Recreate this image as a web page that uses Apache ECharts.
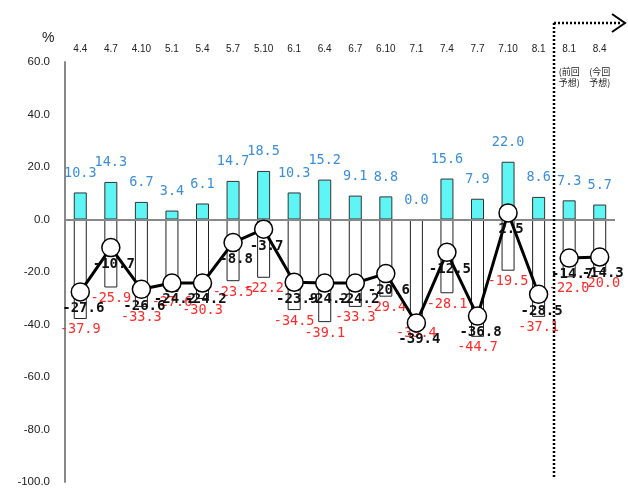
<!DOCTYPE html>
<html><head><meta charset="utf-8">
<script src="https://cdn.jsdelivr.net/npm/echarts@6/dist/echarts.min.js"></script>
<style>html,body{margin:0;padding:0;background:#fff}#c{width:628px;height:495px}</style>
</head><body><div id="c"></div>
<script>
const categories = ['4.4','4.7','4.10','5.1','5.4','5.7','5.10','6.1','6.4','6.7','6.10','7.1','7.4','7.7','7.10','8.1','8.1','8.4'];
const subLabels = ['','','','','','','','','','','','','','','','','(前回\n予想)','(今回\n予想)'];
const positiveValues = [10.3,14.3,6.7,3.4,6.1,14.7,18.5,10.3,15.2,9.1,8.8,0.0,15.6,7.9,22.0,8.6,7.3,5.7];
const negativeValues = [-37.9,-25.9,-33.3,-27.6,-30.3,-23.5,-22.2,-34.5,-39.1,-33.3,-29.4,-39.4,-28.1,-44.7,-19.5,-37.1,-22.0,-20.0];
const lineActual = [-27.6,-10.7,-26.6,-24.2,-24.2,-8.8,-3.7,-23.9,-24.2,-24.2,-20.6,-39.4,-12.5,-36.8,2.5,-28.5,null,null];
const lineForecast = [null,null,null,null,null,null,null,null,null,null,null,null,null,null,null,null,-14.7,-14.3];
const yMin = -100, yMax = 60, yStep = 20;

const mono = '"DejaVu Sans Mono", monospace';
const chart = echarts.init(document.getElementById('c'), null, {renderer:'canvas'});
const lineLabel = {show:true, position:'bottom', distance:0, offset:[3,0], color:'#111', fontFamily:mono, fontWeight:'bold', fontSize:14,
  formatter:p => p.value == null ? '' : p.value.toFixed(1)};
const lineCommon = {
  type:'line', symbol:'circle', symbolSize:18, z:5,
  lineStyle:{color:'#000', width:3},
  itemStyle:{color:'#fff', borderColor:'#000', borderWidth:1.5},
  label: lineLabel, connectNulls:false
};
chart.setOption({
  animation:false,
  backgroundColor:'#fff',
  title:{text:'%', left:37, top:26, textStyle:{fontSize:14, fontWeight:'normal', color:'#222', fontFamily:'Liberation Sans'}},
  grid:{left:65, right:13, top:62, bottom:13},
  xAxis:[{
    type:'category', data:categories, position:'top',
    axisLine:{show:false, onZero:false}, axisTick:{show:false},
    axisLabel:{color:'#222', fontSize:10, margin:8, fontFamily:'Liberation Sans'}
  },{
    type:'category', data:subLabels, position:'top', offset:-34,
    axisLine:{show:false, onZero:false}, axisTick:{show:false},
    axisLabel:{color:'#222', fontSize:9, lineHeight:11, margin:8, fontFamily:'"Noto Sans CJK JP"'}
  }],
  yAxis:{
    type:'value', min:yMin, max:yMax, interval:yStep,
    axisLine:{show:true, lineStyle:{color:'#888', width:2}},
    axisTick:{show:false}, splitLine:{show:false},
    axisLabel:{color:'#222', fontSize:11.5, margin:15, fontFamily:'Liberation Sans', formatter:v => v.toFixed(1)}
  },
  series:[
    {type:'bar', data:positiveValues, barWidth:13, barGap:'-100%', z:2,
     itemStyle:{color:'#5ff5f5', borderColor:'#333', borderWidth:1},
     label:{show:true, position:'top', distance:12, color:'#3d8ed8', fontFamily:mono, fontSize:13.5, formatter:p=>p.value.toFixed(1)},
     markLine:{silent:true, symbol:'none', label:{show:false}, lineStyle:{color:'#888', width:2, type:'solid'}, data:[{yAxis:0}]}},
    {type:'bar', data:negativeValues, barWidth:13, barGap:'-100%', z:2,
     itemStyle:{color:'#fff', borderColor:'#222', borderWidth:1},
     label:{show:true, position:'bottom', distance:4, color:'#ff2a2a', fontFamily:mono, fontSize:13.5, formatter:p=>p.value.toFixed(1)}},
    Object.assign({data:lineActual}, lineCommon),
    Object.assign({data:lineForecast}, lineCommon)
  ]
});
// dotted divider between actual and forecast
const xa = chart.convertToPixel({xAxisIndex:0}, 15);
const xb = chart.convertToPixel({xAxisIndex:0}, 16);
const xd = Math.round((xa + xb) / 2);
const yTop = chart.convertToPixel({yAxisIndex:0}, yMax) - 39;
const yBot = chart.convertToPixel({yAxisIndex:0}, yMin) - 5;
const xEnd = 622;
const dot = {stroke:'#000', lineWidth:2.5, lineDash:[2,2]};
chart.setOption({graphic:[
  {type:'line', shape:{x1:xd, y1:yTop, x2:xd, y2:yBot}, style:dot, z:100},
  {type:'line', shape:{x1:xd, y1:yTop, x2:xEnd, y2:yTop}, style:dot, z:100},
  {type:'polyline', shape:{points:[[xEnd-10, yTop-9],[xEnd+3, yTop],[xEnd-10, yTop+9]]}, style:{stroke:'#000', lineWidth:2, fill:null}, z:100}
]});
</script></body></html>
